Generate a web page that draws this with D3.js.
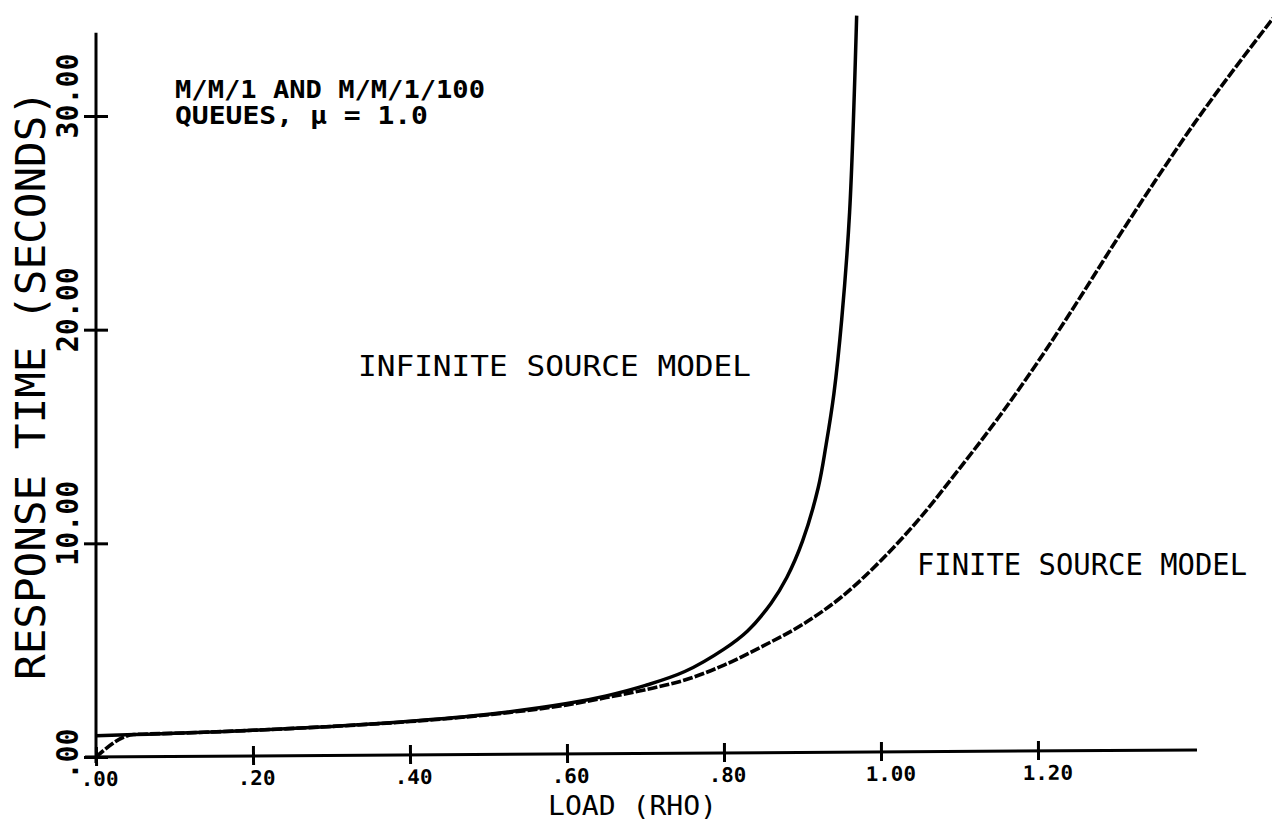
<!DOCTYPE html>
<html>
<head>
<meta charset="utf-8">
<script src="https://cdn.jsdelivr.net/npm/d3@7/dist/d3.min.js"></script>
<style>
  html, body { margin: 0; padding: 0; background: #fff; }
  svg { display: block; }
</style>
</head>
<body>
<svg id="chart" width="1272" height="822"></svg>
<script>
// Response time vs. load for M/M/1 (infinite source) and M/M/1/100 (finite source)
const rhoInfinite  = [0, 0.05, 0.1, 0.2, 0.3, 0.4, 0.5, 0.6, 0.65, 0.7, 0.75, 0.8, 0.83, 0.86, 0.88, 0.9, 0.92, 0.93, 0.94, 0.95, 0.96, 0.969];
const respInfinite = [1.0, 1.05, 1.11, 1.25, 1.43, 1.67, 2.0, 2.5, 2.86, 3.35, 4.0, 5.05, 5.9, 7.2, 8.4, 10.1, 12.6, 14.6, 17.0, 20.5, 25.5, 34.7];

const rhoFinite  = [0, 0.048, 0.1, 0.2, 0.3, 0.4, 0.5, 0.6, 0.65, 0.7, 0.75, 0.8, 0.85, 0.9, 0.95, 1.0, 1.05, 1.1, 1.15, 1.2, 1.25, 1.3, 1.35, 1.4, 1.45, 1.5];
const respFinite = [0, 1.05, 1.11, 1.25, 1.43, 1.66, 1.98, 2.44, 2.78, 3.15, 3.6, 4.3, 5.2, 6.2, 7.5, 9.2, 11.2, 13.5, 15.9, 18.5, 21.3, 24.2, 27.0, 29.7, 32.2, 34.6];

const xTickValues = [0, 0.2, 0.4, 0.6, 0.8, 1.0, 1.2];
const xTickLabels = [".00", ".20", ".40", ".60", ".80", "1.00", "1.20"];
const yTickValues = [0, 10, 20, 30];
const yTickLabels = [".00", "10.00", "20.00", "30.00"];

const svg = d3.select("#chart");
const x = d3.scaleLinear().domain([0, 1.4]).range([96, 1195]);
const y = d3.scaleLinear().domain([0, 30]).range([757, 116]);

const monoFont = "'DejaVu Sans Mono', monospace";

// ---- y axis ----
const yAxis = d3.axisLeft(y)
  .tickValues(yTickValues)
  .tickSize(12)
  .tickFormat((d, i) => yTickLabels[i]);
const gy = svg.append("g").attr("transform", `translate(${x(0)},0)`).call(yAxis);
gy.select(".domain").remove();
gy.selectAll(".tick line")
  .attr("x1", -12).attr("x2", 12)
  .attr("stroke", "#000").attr("stroke-width", 3);
gy.selectAll(".tick text")
  .attr("transform", "rotate(-90)")
  .attr("x", -22).attr("y", -18).attr("dy", 0)
  .attr("text-anchor", "start")
  .attr("font-family", monoFont).attr("font-weight", "bold")
  .attr("font-size", 30).attr("fill", "#000")
  .attr("textLength", function () { return this.textContent.length * 17; })
  .attr("lengthAdjust", "spacingAndGlyphs");
gy.append("line")
  .attr("x1", 0).attr("x2", 0)
  .attr("y1", y(0) + 6).attr("y2", y(33.9))
  .attr("stroke", "#000").attr("stroke-width", 3);

// ---- x axis (drawn slightly askew, as plotted) ----
const xAxis = d3.axisBottom(x)
  .tickValues(xTickValues)
  .tickSize(9)
  .tickFormat((d, i) => xTickLabels[i]);
const gx = svg.append("g")
  .attr("transform", `rotate(-0.37, ${x(0)}, ${y(0)}) translate(0,${y(0)})`)
  .call(xAxis);
gx.select(".domain").remove();
gx.selectAll(".tick line")
  .attr("y1", -10).attr("y2", 9)
  .attr("stroke", "#000").attr("stroke-width", 3);
gx.selectAll(".tick text")
  .attr("x", -16).attr("y", 29).attr("dy", 0)
  .attr("text-anchor", "start")
  .attr("font-family", monoFont).attr("font-weight", "bold")
  .attr("font-size", 20).attr("fill", "#000")
  .attr("textLength", function () { return this.textContent.length * 12.6; })
  .attr("lengthAdjust", "spacingAndGlyphs");
gx.append("line")
  .attr("x1", x(0) - 11).attr("x2", x(1.4) + 2)
  .attr("y1", 0).attr("y2", 0)
  .attr("stroke", "#000").attr("stroke-width", 3);

// ---- curves ----
const smoothLine = d3.line()
  .x(d => x(d[0]))
  .y(d => y(d[1]))
  .curve(d3.curveCatmullRom.alpha(0.5));

const monoLine = d3.line()
  .x(d => x(d[0]))
  .y(d => y(d[1]))
  .curve(d3.curveMonotoneX);

svg.append("path")
  .datum(d3.zip(rhoInfinite, respInfinite))
  .attr("d", smoothLine)
  .attr("fill", "none")
  .attr("stroke", "#000")
  .attr("stroke-width", 3.5);

svg.append("path")
  .datum(d3.zip(rhoFinite, respFinite))
  .attr("d", monoLine)
  .attr("fill", "none")
  .attr("stroke", "#000")
  .attr("stroke-width", 3.6)
  .attr("stroke-dasharray", "10,2.2");

// ---- text ----
function label(txt, px, py, size, len, weight, rotate) {
  const t = svg.append("text")
    .attr("font-family", monoFont)
    .attr("font-weight", weight)
    .attr("font-size", size)
    .attr("fill", "#000")
    .attr("textLength", len)
    .attr("lengthAdjust", "spacingAndGlyphs")
    .text(txt);
  if (rotate) {
    t.attr("transform", `translate(${px},${py}) rotate(-90)`);
  } else {
    t.attr("x", px).attr("y", py);
  }
  return t;
}

label("M/M/1 AND M/M/1/100", 175, 98, 24, 310, "bold");
label("QUEUES, \u03bc = 1.0", 175, 124, 24, 253, "bold");
label("INFINITE SOURCE MODEL", 358, 376, 28, 393, "normal");
label("FINITE SOURCE MODEL", 917, 575, 30, 330, "normal");
label("LOAD  (RHO)", 548, 815, 27, 169, "normal");
label("RESPONSE  TIME  (SECONDS)", 45, 680, 41, 590, "normal", true);
</script>
</body>
</html>
